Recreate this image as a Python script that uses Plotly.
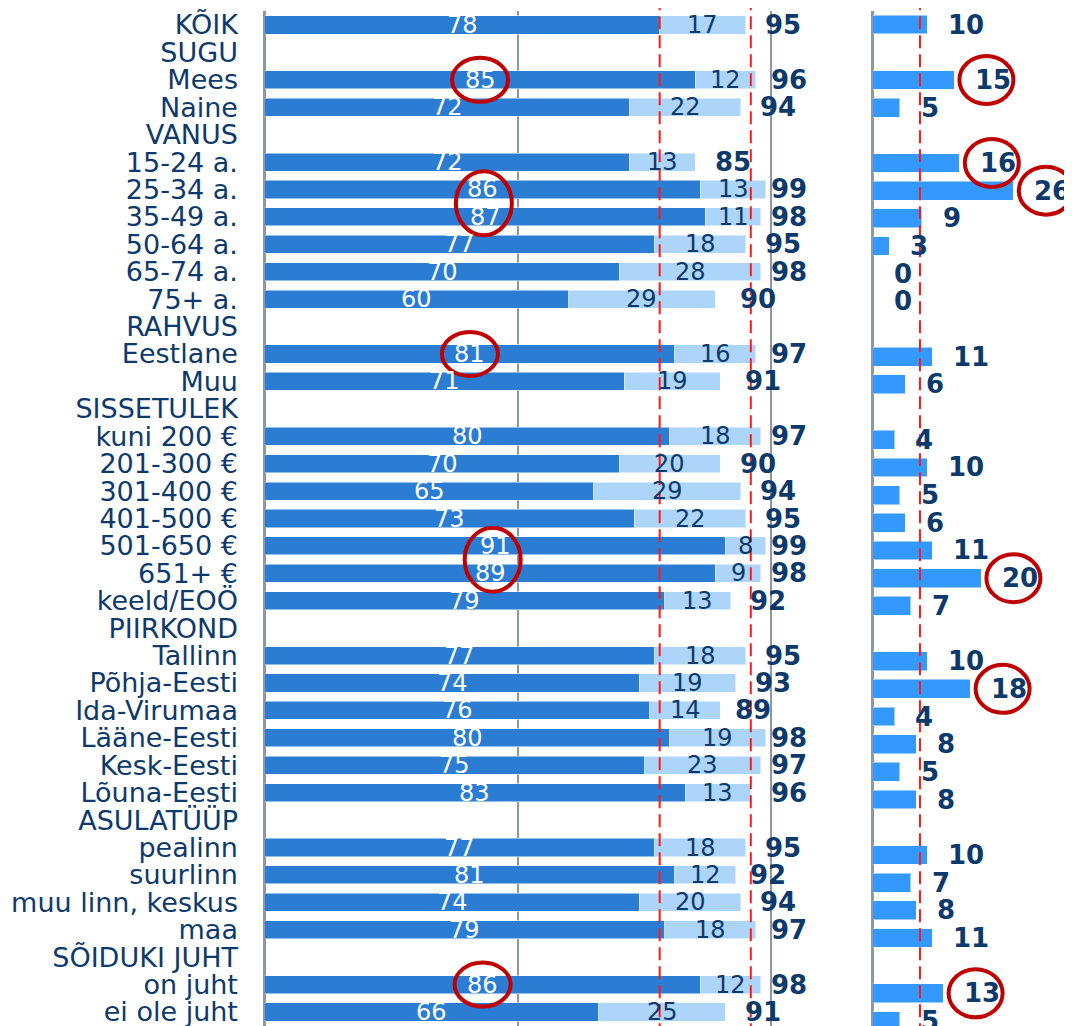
import plotly.graph_objects as go

# ── palette ────────────────────────────────────────────────────────────────
_NAVY   = "#0E3A6B"
_DARK   = "#2B7CD3"
_LIGHT  = "#ADD5FA"
_RIGHT  = "#3399FF"
_GRAY   = "#8F96A6"
_RED    = "#FF1A1A"
_CIRCLE = "#C00000"
_FONT   = "DejaVu Sans, Verdana, sans-serif"

# ── data ───────────────────────────────────────────────────────────────────
labels = ["KÕIK", "SUGU", "Mees", "Naine", "VANUS", "15-24 a.", "25-34 a.",
          "35-49 a.", "50-64 a.", "65-74 a.", "75+ a.", "RAHVUS", "Eestlane",
          "Muu", "SISSETULEK", "kuni 200 €", "201-300 €", "301-400 €",
          "401-500 €", "501-650 €", "651+ €", "keeld/EOÖ", "PIIRKOND",
          "Tallinn", "Põhja-Eesti", "Ida-Virumaa", "Lääne-Eesti", "Kesk-Eesti",
          "Lõuna-Eesti", "ASULATÜÜP", "pealinn", "suurlinn", "muu linn, keskus",
          "maa", "SÕIDUKI JUHT", "on juht", "ei ole juht"]
dark = [78, None, 85, 72, None, 72, 86, 87, 77, 70, 60, None, 81, 71, None,
        80, 70, 65, 73, 91, 89, 79, None, 77, 74, 76, 80, 75, 83, None,
        77, 81, 74, 79, None, 86, 66]
light = [17, None, 12, 22, None, 13, 13, 11, 18, 28, 29, None, 16, 19, None,
         18, 20, 29, 22, 8, 9, 13, None, 18, 19, 14, 19, 23, 13, None,
         18, 12, 20, 18, None, 12, 25]
totals = [95, None, 96, 94, None, 85, 99, 98, 95, 98, 90, None, 97, 91, None,
          97, 90, 94, 95, 99, 98, 92, None, 95, 93, 89, 98, 97, 96, None,
          95, 92, 94, 97, None, 98, 91]
right_vals = [10, None, 15, 5, None, 16, 26, 9, 3, 0, 0, None, 11, 6, None,
              4, 10, 5, 6, 11, 20, 7, None, 10, 18, 4, 8, 5, 8, None,
              10, 7, 8, 11, None, 13, 5]
ref_left = [78, 96]
ref_right = [8.7]
circled_left = [["Mees"], ["25-34 a.", "35-49 a."], ["Eestlane"],
                ["501-650 €", "651+ €"], ["on juht"]]
circled_right = ["Mees", "15-24 a.", "25-34 a.", "651+ €", "Põhja-Eesti", "on juht"]

rows = list(range(len(labels)))

fig = go.Figure()
edge = dict(width=1, color="rgba(255,255,255,0.5)")
fig.add_trace(go.Bar(x=dark, y=rows, orientation="h", width=0.66,
                     marker=dict(color=_DARK, line=edge),
                     xaxis="x", yaxis="y", hoverinfo="skip"))
fig.add_trace(go.Bar(x=light, y=rows, orientation="h", width=0.66,
                     marker=dict(color=_LIGHT, line=edge),
                     xaxis="x", yaxis="y", hoverinfo="skip"))
fig.add_trace(go.Bar(x=right_vals, y=rows, orientation="h", width=0.68,
                     marker=dict(color=_RIGHT, line=edge),
                     xaxis="x2", yaxis="y2", hoverinfo="skip"))

# segment labels
plain = dict(family=_FONT, size=24)
for i, (d, l) in enumerate(zip(dark, light)):
    if d is None:
        continue
    fig.add_annotation(x=d / 2, y=i, xref="x", yref="y", text=str(d),
                       showarrow=False, font={**plain, "color": "white"})
    fig.add_annotation(x=d + l / 2, y=i, xref="x", yref="y", text=str(l),
                       showarrow=False, font={**plain, "color": _NAVY})

bold = dict(family=_FONT, size=26, color=_NAVY, weight="bold")
for i, t in enumerate(totals):
    if t is None:
        continue
    fig.add_annotation(x=min(t + 3.5, 99.5), y=i, xref="x", yref="y",
                       text=f"<b>{t}</b>", showarrow=False, xanchor="left",
                       font=bold)
for i, v in enumerate(right_vals):
    if v is None:
        continue
    fig.add_annotation(x=v + 3.5, y=i, xref="x2", yref="y2",
                       text=f"<b>{v}</b>", showarrow=False, xanchor="left",
                       font=bold)

# reference lines
dash = dict(color=_RED, width=2, dash="13px,6px")
for r in ref_left:
    fig.add_shape(type="line", xref="x", yref="paper", x0=r, x1=r, y0=-0.01, y1=1.01,
                  line=dash)
for r in ref_right:
    fig.add_shape(type="line", xref="x2", yref="paper", x0=r, x1=r, y0=-0.01, y1=1.01,
                  line=dash)

# highlight circles
for grp in circled_left:
    idx = [labels.index(g) for g in grp]
    cx = sum(dark[k] for k in idx) / len(idx) / 2
    cy = sum(idx) / len(idx)
    h = 22 if len(idx) == 1 else 32
    fig.add_shape(type="circle", xref="x", yref="y", xsizemode="pixel", ysizemode="pixel",
                  xanchor=cx, yanchor=cy, x0=-28, x1=28, y0=-h, y1=h,
                  line=dict(color=_CIRCLE, width=4))
for g in circled_right:
    k = labels.index(g)
    fig.add_shape(type="circle", xref="x2", yref="y2", xsizemode="pixel", ysizemode="pixel",
                  xanchor=right_vals[k] + 6.0, yanchor=k, x0=-27, x1=27, y0=-24, y1=24,
                  line=dict(color=_CIRCLE, width=4))

fig.update_layout(
    width=1072, height=1026,
    margin=dict(l=0, r=0, t=3, b=8),
    paper_bgcolor="white", plot_bgcolor="white",
    barmode="stack", showlegend=False,
    font=dict(family=_FONT, color=_NAVY),
    xaxis=dict(domain=[0.2397, 0.759], range=[0, 110], tickvals=[0, 50, 100],
               showticklabels=False, showgrid=True, gridcolor=_GRAY, gridwidth=2,
               zeroline=True, zerolinecolor=_GRAY, zerolinewidth=3, fixedrange=True),
    yaxis=dict(domain=[0, 1], range=[36.51, -0.51], tickvals=rows, ticktext=labels,
               showgrid=False, zeroline=False, ticks="", ticklabelstandoff=26,
               tickfont=dict(size=27, color=_NAVY, family=_FONT)),
    xaxis2=dict(domain=[0.8069, 1.0], range=[0, 38.33], showticklabels=False,
                showgrid=False, zeroline=True, zerolinecolor=_GRAY, zerolinewidth=3,
                anchor="y2"),
    yaxis2=dict(domain=[0, 1], range=[36.18, -0.49], showticklabels=False,
                showgrid=False, zeroline=False, anchor="x2"),
)

fig.write_html("out.html")
